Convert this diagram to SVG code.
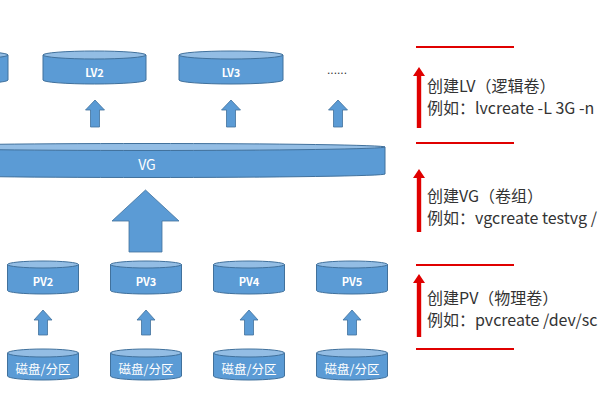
<svg xmlns="http://www.w3.org/2000/svg" width="600" height="400" viewBox="0 0 600 400">
<style>
.body{fill:#5B9BD5;stroke:#41719C;stroke-width:1}
.top{fill:#93BDE4;stroke:#41719C;stroke-width:1}
.arr{fill:#5B9BD5;stroke:#41719C;stroke-width:0.8}
.lbl{fill:#fff;font-family:"Noto Sans CJK SC","Liberation Sans",sans-serif;text-anchor:middle;dominant-baseline:central}
.b{font-weight:bold;font-size:11px}
.red{stroke:#E00000;stroke-width:2}
.redarr{fill:#E00000}
.note{fill:#333;font-family:"Noto Sans CJK SC","Liberation Sans",sans-serif;font-size:16px}
</style>
<rect width="600" height="400" fill="#fff"/>
<g id="connectors">
<polygon class="arr" points="95,100 104.5,110 99.5,110 99.5,127 90.5,127 90.5,110 85.5,110"/>
<polygon class="arr" points="231,100 240.5,110 235.5,110 235.5,127 226.5,127 226.5,110 221.5,110"/>
<polygon class="arr" points="338,100 347.5,110 342.5,110 342.5,127 333.5,127 333.5,110 328.5,110"/>
<polygon class="arr" points="145.5,190 179,221 162,221 162,252 129,252 129,221 112,221"/>
<polygon class="arr" points="43,310 52,320 47.5,320 47.5,335 38.5,335 38.5,320 34,320"/>
<polygon class="arr" points="146,310 155,320 150.5,320 150.5,335 141.5,335 141.5,320 137,320"/>
<polygon class="arr" points="249,310 258,320 253.5,320 253.5,335 244.5,335 244.5,320 240,320"/>
<polygon class="arr" points="352,310 361,320 356.5,320 356.5,335 347.5,335 347.5,320 343,320"/>
</g>
<g id="lv1"><path class="body" d="M-94,55 V80 A51,4 0 0 0 8,80 V55 Z"/><ellipse class="top" cx="-43" cy="55" rx="51" ry="4"/></g>
<g id="lv2"><path class="body" d="M43,55 V80 A51.5,4 0 0 0 146,80 V55 Z"/><ellipse class="top" cx="94.5" cy="55" rx="51.5" ry="4"/><text class="lbl b" x="94.5" y="72">LV2</text></g>
<g id="lv3"><path class="body" d="M179,55 V80 A52,4 0 0 0 283,80 V55 Z"/><ellipse class="top" cx="231" cy="55" rx="52" ry="4"/><text class="lbl b" x="231" y="72">LV3</text></g>
<g id="more"><text x="337" y="74" font-family="Liberation Sans,sans-serif" font-size="12" fill="#333" text-anchor="middle">......</text></g>
<g id="vg"><path class="body" d="M-91,147 V174 A238,3.5 0 0 0 385,174 V147 Z"/><ellipse class="top" cx="147" cy="147" rx="238" ry="3.5"/><text class="lbl" x="147" y="164" font-size="14">VG</text></g>
<g id="pv2"><path class="body" d="M7.5,264.5 V290.5 A35.5,3.5 0 0 0 78.5,290.5 V264.5 Z"/><ellipse class="top" cx="43" cy="264.5" rx="35.5" ry="3.5"/><text class="lbl b" x="43" y="281">PV2</text></g>
<g id="pv3"><path class="body" d="M110.5,264.5 V290.5 A35.5,3.5 0 0 0 181.5,290.5 V264.5 Z"/><ellipse class="top" cx="146" cy="264.5" rx="35.5" ry="3.5"/><text class="lbl b" x="146" y="281">PV3</text></g>
<g id="pv4"><path class="body" d="M213.5,264.5 V290.5 A35.5,3.5 0 0 0 284.5,290.5 V264.5 Z"/><ellipse class="top" cx="249" cy="264.5" rx="35.5" ry="3.5"/><text class="lbl b" x="249" y="281">PV4</text></g>
<g id="pv5"><path class="body" d="M316.5,264.5 V290.5 A35.5,3.5 0 0 0 387.5,290.5 V264.5 Z"/><ellipse class="top" cx="352" cy="264.5" rx="35.5" ry="3.5"/><text class="lbl b" x="352" y="281">PV5</text></g>
<g id="disk1"><path class="body" d="M7.5,353 V376 A35.5,4 0 0 0 78.5,376 V353 Z"/><ellipse class="top" cx="43" cy="353" rx="35.5" ry="4"/><text class="lbl" x="43" y="368" font-size="12.5">磁盘/分区</text></g>
<g id="disk2"><path class="body" d="M110.5,353 V376 A35.5,4 0 0 0 181.5,376 V353 Z"/><ellipse class="top" cx="146" cy="353" rx="35.5" ry="4"/><text class="lbl" x="146" y="368" font-size="12.5">磁盘/分区</text></g>
<g id="disk3"><path class="body" d="M213.5,353 V376 A35.5,4 0 0 0 284.5,376 V353 Z"/><ellipse class="top" cx="249" cy="353" rx="35.5" ry="4"/><text class="lbl" x="249" y="368" font-size="12.5">磁盘/分区</text></g>
<g id="disk4"><path class="body" d="M316.5,353 V376 A35.5,4 0 0 0 387.5,376 V353 Z"/><ellipse class="top" cx="352" cy="353" rx="35.5" ry="4"/><text class="lbl" x="352" y="368" font-size="12.5">磁盘/分区</text></g>
<g id="legend">
<line class="red" x1="416" y1="47" x2="514" y2="47"/>
<line class="red" x1="416" y1="143" x2="514" y2="143"/>
<line class="red" x1="416" y1="265" x2="514" y2="265"/>
<line class="red" x1="416" y1="349" x2="514" y2="349"/>
<polygon class="redarr" points="419,67 425,76 421.2,76 421.2,128 416.8,128 416.8,76 413,76"/>
<polygon class="redarr" points="419,169 425,178 421.2,178 421.2,232 416.8,232 416.8,178 413,178"/>
<polygon class="redarr" points="419,274 425,283 421.2,283 421.2,337 416.8,337 416.8,283 413,283"/>
<text class="note" x="427" y="92">创建LV（逻辑卷）</text>
<text class="note" x="427" y="114">例如：lvcreate -L 3G -n</text>
<text class="note" x="427" y="202">创建VG（卷组）</text>
<text class="note" x="427" y="224">例如：vgcreate testvg /</text>
<text class="note" x="427" y="304">创建PV（物理卷）</text>
<text class="note" x="427" y="326">例如：pvcreate /dev/sc</text>
</g>
</svg>
